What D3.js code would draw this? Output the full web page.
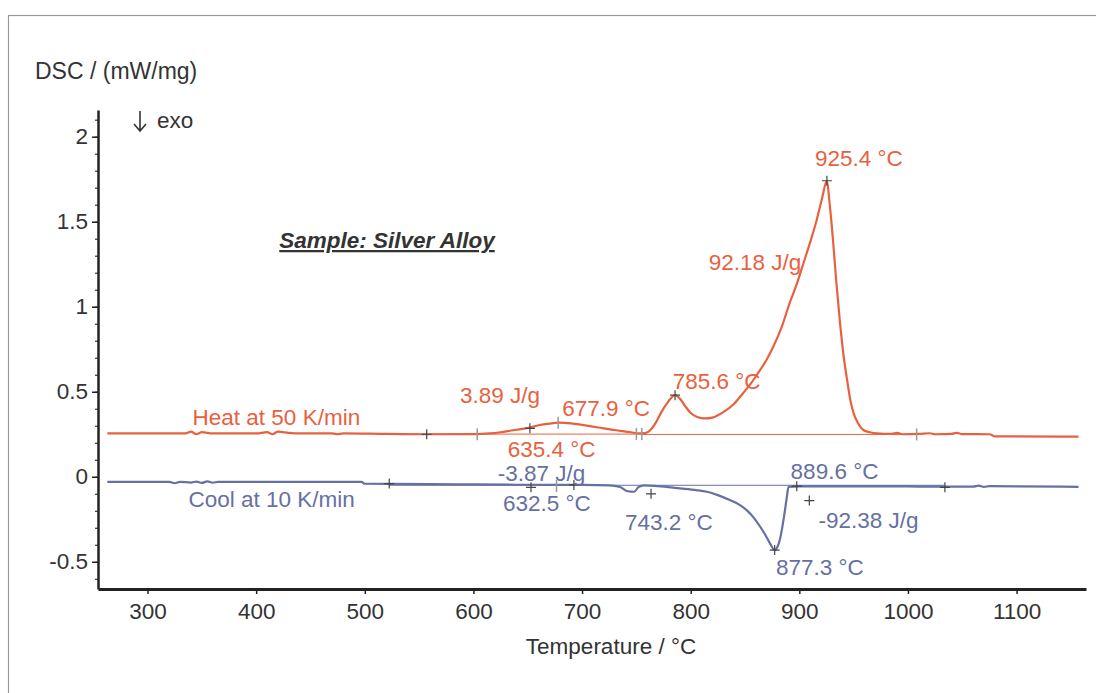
<!DOCTYPE html>
<html>
<head>
<meta charset="utf-8">
<script src="https://cdn.jsdelivr.net/npm/d3@7"></script>
<style>
  body { margin: 0; background: #fff; }
  svg text { font-family: "Liberation Sans", Arial, sans-serif; }
</style>
</head>
<body>
<script>
// Heating run (50 K/min): temperature in °C, DSC in mW/mg
const heatT = [263, 300, 335, 340, 345, 350, 360, 400, 410, 415, 420, 430, 440, 470, 475, 480, 520, 560,
  600, 615, 625, 635, 645, 652, 660, 670, 678, 690, 700, 715, 730, 745, 752, 758, 763, 768, 773, 778,
  783, 785.6, 790, 795, 800, 806, 813, 820, 830, 840, 848, 855, 862, 870, 876, 884, 891, 898, 904, 910,
  916, 921, 925.4, 928, 931, 934, 937.5, 941, 944, 947, 950, 954, 959, 965, 971, 985, 990, 995, 1010,
  1020, 1025, 1040, 1045, 1050, 1075, 1080, 1157];
const heatV = [0.255, 0.255, 0.255, 0.265, 0.25, 0.262, 0.255, 0.255, 0.262, 0.25, 0.265, 0.258, 0.255,
  0.255, 0.25, 0.255, 0.252, 0.25, 0.251, 0.255, 0.262, 0.272, 0.282, 0.29, 0.303, 0.313, 0.318, 0.314,
  0.305, 0.29, 0.275, 0.262, 0.255, 0.257, 0.275, 0.32, 0.38, 0.43, 0.47, 0.48, 0.46, 0.415, 0.375,
  0.352, 0.343, 0.348, 0.38, 0.43, 0.49, 0.545, 0.61, 0.69, 0.765, 0.885, 1.02, 1.14, 1.26, 1.38, 1.51,
  1.64, 1.741, 1.6, 1.392, 1.15, 0.902, 0.7, 0.569, 0.45, 0.373, 0.315, 0.275, 0.262, 0.255, 0.252,
  0.258, 0.25, 0.252, 0.256, 0.25, 0.252, 0.258, 0.251, 0.25, 0.238, 0.236];

// Cooling run (10 K/min)
const coolT = [263, 300, 320, 325, 330, 340, 345, 350, 355, 360, 365, 400, 497, 500, 560, 600, 640, 700,
  725, 735, 742, 748, 752, 757, 770, 790, 805, 815, 825, 836, 845, 851.5, 858, 864, 869, 873, 877.3,
  880, 882, 884.5, 886.8, 888.5, 890, 900, 950, 1000, 1030, 1060, 1065, 1070, 1075, 1157];
const coolV = [-0.03, -0.03, -0.03, -0.038, -0.03, -0.034, -0.028, -0.036, -0.027, -0.035, -0.03, -0.03,
  -0.03, -0.041, -0.043, -0.045, -0.047, -0.048, -0.05, -0.06, -0.085, -0.088, -0.06, -0.05, -0.055,
  -0.068, -0.078, -0.088, -0.108, -0.137, -0.165, -0.196, -0.24, -0.294, -0.345, -0.392, -0.431, -0.41,
  -0.372, -0.29, -0.196, -0.12, -0.059, -0.056, -0.056, -0.057, -0.058, -0.058, -0.052, -0.06, -0.055,
  -0.059];

// integration baselines [t0, t1, value]
const heatBaselines = [[557, 755, 0.251], [755, 1008, 0.249]];
const coolBaselines = [[522, 1034, -0.05]];

// evaluation marks: "+" crosses and "|" limits
const heatMarks = [
  { t: 557, v: 0.25, kind: "cross" }, { t: 603.5, v: 0.25, kind: "bar" },
  { t: 652, v: 0.285, kind: "cross" }, { t: 678, v: 0.318, kind: "bar" },
  { t: 750, v: 0.252, kind: "bar" }, { t: 755, v: 0.252, kind: "bar" },
  { t: 785.6, v: 0.48, kind: "cross" }, { t: 925.4, v: 1.741, kind: "cross" },
  { t: 1008, v: 0.249, kind: "bar" }
];
const coolMarks = [
  { t: 522.5, v: -0.04, kind: "cross" }, { t: 653, v: -0.062, kind: "cross" },
  { t: 676.5, v: -0.054, kind: "bar" }, { t: 692.5, v: -0.048, kind: "cross" },
  { t: 763.5, v: -0.1, kind: "cross" }, { t: 877.3, v: -0.431, kind: "cross" },
  { t: 897.6, v: -0.055, kind: "cross" }, { t: 909.2, v: -0.14, kind: "cross" },
  { t: 1034, v: -0.062, kind: "cross" }
];

const heatLabels = [
  { text: "925.4 °C", t: 954.9, v: 1.875 }, { text: "92.18 J/g", t: 859.2, v: 1.263 },
  { text: "785.6 °C", t: 823.8, v: 0.563 }, { text: "3.89 J/g", t: 624.5, v: 0.481 },
  { text: "677.9 °C", t: 722.1, v: 0.405 }, { text: "635.4 °C", t: 671.9, v: 0.163 },
  { text: "Heat at 50 K/min", t: 418.6, v: 0.35 }
];
const coolLabels = [
  { text: "-3.87 J/g", t: 662.7, v: 0.022 }, { text: "632.5 °C", t: 667.7, v: -0.154 },
  { text: "743.2 °C", t: 780, v: -0.264 }, { text: "889.6 °C", t: 932.4, v: 0.036 },
  { text: "-92.38 J/g", t: 963.7, v: -0.254 }, { text: "877.3 °C", t: 919, v: -0.534 },
  { text: "Cool at 10 K/min", t: 414.3, v: -0.13 }
];

const tempTicks = [300, 400, 500, 600, 700, 800, 900, 1000, 1100];
const dscTicks = [-0.5, 0, 0.5, 1, 1.5, 2];

const w = 1096;
const h = 693;
const fs = "22.5px";
const heatColor = "#e8613f";
const coolColor = "#6670a2";

const svg = d3.select("body").append("svg").attr("width", w).attr("height", h);

// outer frame
svg.append("rect")
  .attr("x", 8.5).attr("y", 15.5)
  .attr("width", 1100).attr("height", 700)
  .attr("fill", "none").attr("stroke", "#999").attr("stroke-width", 1.2);

const x = d3.scaleLinear().domain([254.4, 1163.9]).range([98, 1086]);
const y = d3.scaleLinear().domain([-0.66, 2.157]).range([589, 110]);

// y axis with minor ticks every 0.1
svg.append("g")
  .attr("transform", "translate(98,0)")
  .call(d3.axisLeft(y).tickValues(d3.range(-6, 22).map((i) => i / 10)).tickSize(3).tickFormat(""))
  .call((g) => g.select(".domain").remove())
  .call((g) => g.selectAll("line").attr("stroke", "#333").attr("stroke-width", 1.2));

svg.append("g")
  .attr("id", "y-axis")
  .attr("transform", "translate(98,0)")
  .call(d3.axisLeft(y).tickValues(dscTicks).tickSize(6).tickPadding(4).tickSizeOuter(0)
    .tickFormat((d) => String(d)))
  .call((g) => g.select(".domain").attr("stroke", "#222").attr("stroke-width", 2.5))
  .call((g) => g.selectAll("line").attr("stroke", "#222").attr("stroke-width", 1.5))
  .call((g) => g.selectAll("text").attr("font-size", fs).attr("fill", "#333"));

svg.append("g")
  .attr("id", "x-axis")
  .attr("transform", "translate(0,589)")
  .call(d3.axisBottom(x).tickValues(tempTicks).tickSize(5).tickPadding(9).tickSizeOuter(0)
    .tickFormat((d) => String(d)))
  .call((g) => g.select(".domain").attr("stroke", "#222").attr("stroke-width", 3))
  .call((g) => g.selectAll("line").attr("stroke", "#222").attr("stroke-width", 1.5))
  .call((g) => g.selectAll("text").attr("font-size", fs).attr("fill", "#333"));

// axis titles and notes
svg.append("text").attr("x", 35).attr("y", 79)
  .attr("font-size", "23px").attr("fill", "#333").text("DSC / (mW/mg)");
svg.append("path")
  .attr("d", "M140,111V131M134,124L140,131L146,124")
  .attr("fill", "none").attr("stroke", "#333").attr("stroke-width", 1.6);
svg.append("text").attr("x", 157).attr("y", 128)
  .attr("font-size", fs).attr("fill", "#333").text("exo");
svg.append("text").attr("x", 611).attr("y", 654).attr("text-anchor", "middle")
  .attr("font-size", fs).attr("fill", "#333").text("Temperature / °C");
svg.append("text").attr("x", 387).attr("y", 248).attr("text-anchor", "middle")
  .attr("font-size", fs).attr("font-weight", "bold").attr("font-style", "italic")
  .attr("text-decoration", "underline").attr("fill", "#333").text("Sample: Silver Alloy");

const line = d3.line().x((d) => x(d[0])).y((d) => y(d[1])).curve(d3.curveMonotoneX);

function drawRun(tArr, vArr, bases, marks, labels, color) {
  const g = svg.append("g");
  g.selectAll("line.base")
    .data(bases)
    .enter()
    .append("line")
    .attr("class", "base")
    .attr("x1", (d) => x(d[0])).attr("x2", (d) => x(d[1]))
    .attr("y1", (d) => y(d[2])).attr("y2", (d) => y(d[2]))
    .attr("stroke", color).attr("stroke-width", 1);
  g.append("path")
    .datum(tArr.map((t, i) => [t, vArr[i]]))
    .attr("d", line)
    .attr("fill", "none").attr("stroke", color).attr("stroke-width", 2.2);
  marks.forEach((m) => {
    const cx = x(m.t), cy = y(m.v);
    if (m.kind === "cross") {
      g.append("path")
        .attr("d", `M${cx - 5},${cy}H${cx + 5}M${cx},${cy - 5}V${cy + 5}`)
        .attr("stroke", "#444").attr("stroke-width", 1.2);
    } else {
      g.append("path")
        .attr("d", `M${cx},${cy - 6}V${cy + 6}`)
        .attr("stroke", "#999").attr("stroke-width", 1.5);
    }
  });
  g.selectAll("text")
    .data(labels)
    .enter()
    .append("text")
    .attr("x", (d) => x(d.t)).attr("y", (d) => y(d.v))
    .attr("dy", "0.35em").attr("text-anchor", "middle")
    .attr("font-size", fs).attr("fill", color)
    .text((d) => d.text);
}

drawRun(heatT, heatV, heatBaselines, heatMarks, heatLabels, heatColor);
drawRun(coolT, coolV, coolBaselines, coolMarks, coolLabels, coolColor);
</script>
</body>
</html>
